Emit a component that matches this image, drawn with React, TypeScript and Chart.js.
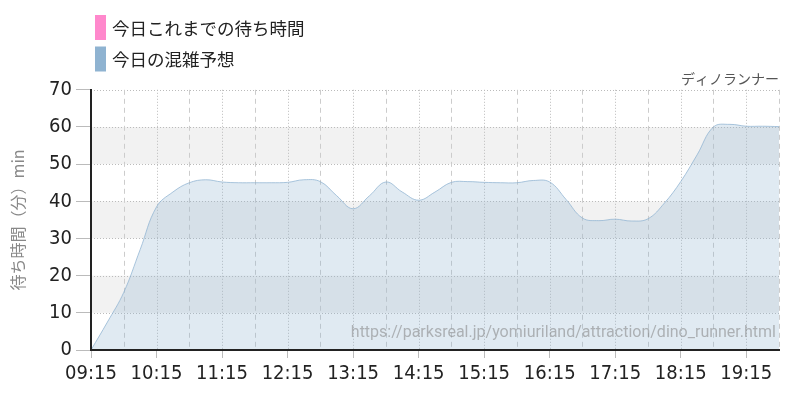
import React, { useEffect, useRef } from "react";
import { Chart, registerables } from "chart.js";

Chart.register(...registerables);

const timeLabels = [
  "09:15", "09:30", "09:45",
  "10:00", "10:15", "10:30", "10:45",
  "11:00", "11:15", "11:30", "11:45",
  "12:00", "12:15", "12:30", "12:45",
  "13:00", "13:15", "13:30", "13:45",
  "14:00", "14:15", "14:30", "14:45",
  "15:00", "15:15", "15:30", "15:45",
  "16:00", "16:15", "16:30", "16:45",
  "17:00", "17:15", "17:30", "17:45",
  "18:00", "18:15", "18:30", "18:45",
  "19:00", "19:15", "19:30", "19:45",
];

const forecastValues = [
  0, 7.5, 15.5,
  27, 38.5, 42.5, 45,
  45.8, 45.2, 45, 45,
  45, 45.1, 45.8, 45.3,
  41.5, 38, 41.5, 45.2,
  42.5, 40.3, 42.5, 45.1,
  45.3, 45.1, 45, 45,
  45.6, 45.2, 40.5, 35.5,
  34.8, 35.2, 34.7, 35.3,
  39.5, 45.3, 52.5, 60,
  60.7, 60.2, 60.2, 60.1,
];

const actualValues: (number | null)[] = [];

const yTickValues = [0, 10, 20, 30, 40, 50, 60, 70];
const shadedBands = [10, 30, 50];

const seriesNames = ["今日これまでの待ち時間", "今日の混雑予想"];
const seriesColors = ["#ff88cc", "#8fb3d1"];
const attractionName = "ディノランナー";
const yAxisTitle = "待ち時間（分）min";
const sourceUrl = "https://parksreal.jp/yomiuriland/attraction/dino_runner.html";

const narrowFont = "'DejaVu Sans Condensed', 'Roboto', sans-serif";
const jpFont = "'Noto Sans CJK JP', 'Noto Sans', sans-serif";

const bandsPlugin = {
  id: "bands",
  beforeDraw(chart: any) {
    const { ctx, chartArea } = chart;
    const y = chart.scales.y;
    ctx.save();
    ctx.fillStyle = "#f2f2f2";
    for (const v of shadedBands) {
      const top = y.getPixelForValue(v + 10);
      const bottom = y.getPixelForValue(v);
      ctx.fillRect(chartArea.left, top, chartArea.right - chartArea.left, bottom - top);
    }
    ctx.restore();
  },
};

const gridPlugin = {
  id: "customGrid",
  beforeDatasetsDraw(chart: any) {
    const { ctx, chartArea } = chart;
    const x = chart.scales.x;
    const y = chart.scales.y;
    ctx.save();
    ctx.lineWidth = 1;
    ctx.strokeStyle = "#bbbbbb";
    ctx.setLineDash([1, 2]);
    for (const v of yTickValues) {
      if (v === 0) continue;
      const py = Math.round(y.getPixelForValue(v)) + 0.5;
      ctx.beginPath();
      ctx.moveTo(chartArea.left, py);
      ctx.lineTo(chartArea.right, py);
      ctx.stroke();
    }
    timeLabels.forEach((_, i) => {
      if (i % 2 !== 0 || i === 0) return;
      const px = Math.round(x.getPixelForValue(i)) + 0.5;
      if (i % 4 === 0) {
        ctx.strokeStyle = "#bbbbbb";
        ctx.setLineDash([1, 2]);
      } else {
        ctx.strokeStyle = "#cccccc";
        ctx.setLineDash([5, 4]);
      }
      ctx.beginPath();
      ctx.moveTo(px, chartArea.top);
      ctx.lineTo(px, chartArea.bottom);
      ctx.stroke();
    });
    ctx.restore();
  },
};

const watermarkPlugin = {
  id: "watermark",
  afterDatasetsDraw(chart: any) {
    const { ctx, chartArea } = chart;
    ctx.save();
    ctx.font = "16px Roboto, 'Noto Sans', sans-serif";
    ctx.fillStyle = "rgba(130,130,130,0.55)";
    ctx.textAlign = "right";
    ctx.textBaseline = "middle";
    ctx.fillText(sourceUrl, chartArea.right - 3, chartArea.bottom - 17);
    ctx.restore();
  },
};

const legendPlugin = {
  id: "customLegend",
  afterDraw(chart: any) {
    const { ctx } = chart;
    ctx.save();
    chart.data.datasets.forEach((ds: any, i: number) => {
      const top = 15 + i * 31.5;
      ctx.fillStyle = seriesColors[i];
      ctx.fillRect(95, top, 11, 25);
      ctx.fillStyle = "#222222";
      ctx.font = `17.5px ${jpFont}`;
      ctx.textAlign = "left";
      ctx.textBaseline = "middle";
      ctx.fillText(ds.label, 112, top + 13);
    });
    ctx.restore();
  },
};

export default function App() {
  const canvasRef = useRef<HTMLCanvasElement | null>(null);

  useEffect(() => {
    if (!canvasRef.current) return;
    const chart = new Chart(canvasRef.current, {
      type: "line",
      data: {
        labels: timeLabels,
        datasets: [
          {
            label: seriesNames[0],
            data: actualValues,
            borderColor: seriesColors[0],
            backgroundColor: seriesColors[0],
            pointRadius: 0,
          },
          {
            label: seriesNames[1],
            data: forecastValues,
            borderColor: "rgba(143,179,209,0.75)",
            backgroundColor: "rgba(143,179,209,0.28)",
            borderWidth: 1,
            fill: "origin",
            pointRadius: 0,
            tension: 0.4,
          },
        ],
      },
      options: {
        responsive: false,
        maintainAspectRatio: false,
        animation: false,
        layout: { padding: { left: 0, right: 21, top: 0, bottom: 0 } },
        plugins: {
          legend: { display: false },
          tooltip: { enabled: false },
          title: {
            display: true,
            text: attractionName,
            align: "end",
            color: "#555555",
            font: { family: jpFont, size: 14, weight: "normal" },
            padding: { top: 70, bottom: 3 },
          },
        },
        scales: {
          x: {
            type: "category",
            offset: false,
            grid: {
              drawOnChartArea: false,
              drawTicks: true,
              tickLength: 8,
              color: "transparent",
              tickColor: (c: any) => (c.index % 4 === 0 ? "#bbbbbb" : "transparent"),
            },
            border: { display: true, color: "#222222", width: 2, z: 1 },
            ticks: {
              autoSkip: false,
              maxRotation: 0,
              minRotation: 0,
              padding: 4,
              color: "#222222",
              font: { family: narrowFont, size: 20 },
              callback: (_v: any, i: number) => (i % 4 === 0 ? timeLabels[i] : ""),
            },
            afterFit: (s: any) => {
              s.height = 50;
            },
          },
          y: {
            min: 0,
            max: 70,
            afterBuildTicks: (s: any) => {
              s.ticks = yTickValues.map((v) => ({ value: v }));
            },
            grid: {
              drawOnChartArea: false,
              drawTicks: true,
              tickLength: 15,
              tickColor: "#bbbbbb",
            },
            border: { display: true, color: "#222222", width: 2, z: 1 },
            ticks: {
              padding: 4,
              color: "#222222",
              font: { family: narrowFont, size: 20 },
            },
            title: {
              display: true,
              text: yAxisTitle,
              color: "#888888",
              font: { family: jpFont, size: 16 },
              padding: { top: 8, bottom: 0 },
            },
            afterFit: (s: any) => {
              s.width = 91;
            },
          },
        },
      },
      plugins: [bandsPlugin, gridPlugin, watermarkPlugin, legendPlugin],
    });
    return () => chart.destroy();
  }, []);

  return (
    <div style={{ position: "absolute", left: 0, top: 0, width: 800, height: 400, background: "#ffffff" }}>
      <canvas ref={canvasRef} width={800} height={400} />
    </div>
  );
}
